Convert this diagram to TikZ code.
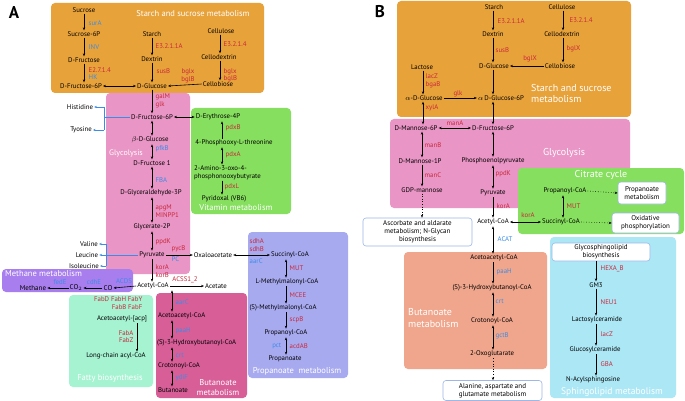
\documentclass[tikz,border=0pt]{standalone}
\usepackage{fontspec}
\setmainfont{PT Sans}
\usetikzlibrary{arrows.meta}
\definecolor{orng}{HTML}{E8A23A}
\definecolor{pinkG}{HTML}{E995C5}
\definecolor{greenV}{HTML}{86DF5E}
\definecolor{peri}{HTML}{A8AAF0}
\definecolor{methp}{HTML}{A87EEE}
\definecolor{mint}{HTML}{A6F3D2}
\definecolor{magB}{HTML}{D85E98}
\definecolor{salmon}{HTML}{F0A68C}
\definecolor{lblue}{HTML}{ACE7F5}
\definecolor{enzred}{HTML}{C8283A}
\definecolor{enzblue}{HTML}{3A8CE8}
\definecolor{bxblue}{HTML}{9DB8E8}
\begin{document}
\begin{tikzpicture}[x=1pt,y=-1pt,
  font=\fontsize{6.8}{7.6}\selectfont,
  met/.style={inner sep=1pt, text=black},
  rt/.style={text=enzred, inner sep=0.5pt, anchor=west, align=left},
  bt/.style={text=enzblue, inner sep=0.5pt, anchor=west, align=left},
  ttlA/.style={text=white, inner sep=0pt, font=\fontsize{8.5}{10}\selectfont},
  ttlB/.style={text=white, inner sep=0pt, font=\fontsize{10}{11.5}\selectfont},
  panel/.style={rounded corners=4pt},
  arr/.style={line width=0.6pt, -{Stealth[length=3pt,width=2.4pt]}},
  darr/.style={line width=0.6pt, {Stealth[length=3pt,width=2.4pt]}-{Stealth[length=3pt,width=2.4pt]}},
  dotarr/.style={line width=0.6pt, dotted, -{Stealth[length=3pt,width=2.4pt]}},
  brk/.style={draw=enzblue, line width=0.6pt},
  barr/.style={draw=enzblue, line width=0.6pt, -{Stealth[length=2.6pt,width=2.2pt]}},
  wbox/.style={draw=bxblue, fill=white, rounded corners=3pt, line width=0.6pt, align=center, inner sep=1pt, font=\fontsize{7}{8.2}\selectfont}
]
\useasboundingbox (0,0) rectangle (685,401);
\fill[white] (0,0) rectangle (685,401);

% ================= PANEL A backgrounds =================
\fill[panel, orng] (51,3) rectangle (264,93);
\fill[panel, pinkG] (106,93) rectangle (190,274);
\fill[panel, greenV] (191,108) rectangle (291,214);
\fill[panel, peri] (248,232) rectangle (348,378);
\fill[panel, methp] (2,269) rectangle (133,292);
\fill[panel, mint] (69,295) rectangle (153,387);
\fill[panel, magB] (156,293) rectangle (247,398);

\node[font=\bfseries\fontsize{17}{17}\selectfont, inner sep=0pt] (pA) at (14,13) {A};

% --- Starch and sucrose (A)
\node[ttlA] (tA1) at (193,14) {Starch and sucrose metabolism};
\node[met] (sucrose) at (84,10) {Sucrose};
\node[met] (suc6p) at (84,34) {Sucrose-6P};
\node[met] (dfru) at (84,60) {D-Fructose};
\node[met] (dfru6pA) at (81,86) {D-Fructose-6P};
\node[met] (starchA) at (152,34) {Starch};
\node[met] (dextrinA) at (152,59) {Dextrin};
\node[met] (dglcA) at (152,86) {D-Glucose};
\node[met] (cellA) at (221,31) {Cellulose};
\node[met] (cdexA) at (219,57) {Cellodextrin};
\node[met] (cbioA) at (218,84) {Cellobiose};
\coordinate (cS) at (84,0);
\coordinate (cG) at (152,0);
\coordinate (cC) at (220,0);
\node[bt] (lsurA) at (88,23) {surA};
\node[bt] (linv) at (88,47) {INV};
\node[rt] (lhk) at (88,73.5) {E2.7.1.4\\\textcolor{enzblue}{HK}};
\node[rt] (le3a) at (155,46) {E3.2.1.1A};
\node[rt] (lsusA) at (156,71) {susB};
\node[rt] (le3b) at (223,44) {E3.2.1.4};
\node[rt] (lbgl1) at (223,75.5) {bglx\\bglB};
\node[rt, anchor=center, align=center] (lbgl2) at (188,76) {bglx\\bglB};
\draw[arr] (sucrose.south -| cS) -- (suc6p.north -| cS);
\draw[arr] (suc6p.south -| cS) -- (dfru.north -| cS);
\draw[arr] (dfru.south -| cS) -- (dfru6pA.north -| cS);
\draw[darr] (dfru6pA.east) -- (dglcA.west);
\draw[arr] (starchA.south -| cG) -- (dextrinA.north -| cG);
\draw[arr] (dextrinA.south -| cG) -- (dglcA.north -| cG);
\draw[arr] (cellA.south -| cC) -- (cdexA.north -| cC);
\draw[arr] (cdexA.south -| cC) -- (cbioA.north -| cC);
\draw[arr] (cbioA.west) -- (dglcA.east);

% --- Glycolysis (A)
\node[ttlA, font=\fontsize{8}{9}\selectfont] (tGly) at (126,153) {Glycolysis};
\node[met] (dfru6pG) at (152,117) {D-Fructose-6P};
\node[met] (bglc) at (150,140) {$\beta$-D-Glucose};
\node[met] (dfru1) at (152,163) {D-Fructose 1};
\node[met] (gap) at (151,193) {D-Glyceraldehyde-3P};
\node[met] (gly2p) at (152,227) {Glycerate-2P};
\node[met] (pyrA) at (152,255) {Pyruvate};
\node[met] (acetylA) at (153,286) {Acetyl-CoA};
\node[rt] (lgal) at (155,101) {galM\\glk};
\node[bt] (lpfk) at (155,149) {pfkB};
\node[bt] (lfba) at (155,180) {FBA};
\node[rt] (lapg) at (155,211) {apgM\\MINPP1};
\node[rt] (lppdA) at (155,242) {ppdK};
\node[rt] (lkorA) at (155,271) {korA\\korB};
\draw[arr] (dglcA.south -| cG) -- (dfru6pG.north -| cG);
\draw[darr] (dfru6pG.south -| cG) -- (bglc.north -| cG);
\draw[darr] (bglc.south -| cG) -- (dfru1.north -| cG);
\draw[darr] (dfru1.south -| cG) -- (gap.north -| cG);
\draw[darr] (gap.south -| cG) -- (gly2p.north -| cG);
\draw[darr] (gly2p.south -| cG) -- (pyrA.north -| cG);
\draw[arr] (pyrA.south -| cG) -- (acetylA.north -| cG);

% amino acids
\node[met] (histidine) at (80,107) {Histidine};
\node[met] (tyosine) at (81,130) {Tyosine};
\node[met] (valine) at (89,244) {Valine};
\node[met] (leucine) at (87,255) {Leucine};
\node[met] (isoleucine) at (84,266) {Isoleucine};
\coordinate (hb) at (104,117);
\coordinate (vb) at (106,255);
\draw[brk] (dfru6pG.west) -- (hb);
\draw[brk] (hb |- histidine) -- (hb |- tyosine);
\draw[barr] (hb |- histidine) -- (histidine.east);
\draw[barr] (hb |- tyosine) -- (tyosine.east);
\draw[brk] (pyrA.west) -- (vb);
\draw[brk] (vb |- valine) -- (vb |- isoleucine);
\draw[barr] (vb |- valine) -- (valine.east);
\draw[barr] (vb |- leucine) -- (leucine.east);
\draw[barr] (vb |- isoleucine) -- (isoleucine.east);

% --- Vitamin metabolism
\node[ttlA] (tVit) at (236,208) {Vitamin metabolism};
\node[met] (ery4p) at (218,117) {D-Erythrose-4P};
\node[met] (phosthr) at (234,143) {4-Phosphooxy-L-threonine};
\node[met, anchor=west, align=left] (amino) at (193,172.5) {2-Amino-3-oxo-4-\\phosphonooxybutyrate};
\node[met] (pyridoxal) at (224,199) {Pyridoxal (VB6)};
\coordinate (cV) at (222,0);
\node[rt] (lpdxB) at (225,128) {pdxB};
\node[rt] (lpdxA) at (225,155) {pdxA};
\node[rt] (lpdxL) at (224,187) {pdxL};
\draw[darr] (dfru6pG.east) -- (ery4p.west);
\draw[arr] (phosthr.north -| cV) -- (ery4p.south -| cV);
\draw[darr] (phosthr.south -| cV) -- (amino.north -| cV);
\draw[arr] (amino.south -| cV) -- (pyridoxal.north -| cV);

% --- Oxaloacetate / Propanoate (A)
\node[met] (oxalo) at (213,255) {Oxaloacetate};
\node[met] (succA) at (290,255) {Succinyl-CoA};
\node[rt] (lpyc) at (171,249) {pycB};
\node[bt] (lpc) at (171,259.5) {PC};
\node[rt] (lsdh) at (249,245) {sdhA\\sdhB};
\node[bt] (laarA) at (249,261) {aarC};
\draw[arr] (pyrA.east) -- (oxalo.west);
\draw[darr] (oxalo.east) -- (succA.west);

\node[ttlA] (tProp) at (297,371) {Propanoate\ \ metabolism};
\node[met] (lmm) at (287,282) {L-Methylmalonyl-CoA};
\node[met] (smm) at (283,308) {(S)-Methylmalonyl-CoA};
\node[met] (propcoa) at (286,333) {Propanoyl-CoA};
\node[met] (propanoate) at (285,359) {Propanoate};
\coordinate (cP) at (286,0);
\node[rt] (lmut) at (289,268) {MUT};
\node[rt] (lmcee) at (289,295) {MCEE};
\node[rt] (lscp) at (289,320) {scpB};
\node[rt] (lacd) at (289,346) {acdAB};
\node[bt, anchor=east] (lpct) at (282,346) {pct};
\draw[darr] (succA.south -| cP) -- (lmm.north -| cP);
\draw[arr] (lmm.south -| cP) -- (smm.north -| cP);
\draw[arr] (smm.south -| cP) -- (propcoa.north -| cP);
\draw[darr] (propcoa.south -| cP) -- (propanoate.north -| cP);

% --- Acetate
\node[met] (acetate) at (216,286) {Acetate};
\node[rt, anchor=center] (lacss) at (185,280) {ACSS1\_2};
\draw[arr] (acetylA.east) -- (acetate.west);

% --- Methane metabolism
\node[ttlA, anchor=west] (tMeth) at (5,274) {Methane metabolism};
\node[met, font=\fontsize{7}{7}\selectfont] (methane) at (33,288) {Methane};
\node[met, font=\fontsize{7}{7}\selectfont] (co2) at (76,288) {CO$_2$};
\node[met, font=\fontsize{7}{7}\selectfont] (co) at (108,288) {CO};
\node[bt, anchor=center] (lfed) at (60,282) {fedE};
\node[bt, anchor=center] (lcdh) at (94,282) {cdhE};
\node[bt, anchor=center] (lacds) at (124,281) {ACDS};
\draw[arr] (acetylA.west) -- (co.east);
\draw[arr] (co.west) -- (co2.east);
\draw[arr] (co2.west) -- (methane.east);

% --- Fatty biosynthesis
\node[ttlA] (tFat) at (110,378) {Fatty\ biosynthesis};
\node[rt, anchor=east, align=right] (lfab1) at (143,303) {FabD FabH FabY\\FabB FabF};
\node[met] (acacp) at (122,319) {Acetoacetyl-[acp]};
\node[rt, anchor=east, align=right] (lfab2) at (134,336.5) {FabA\\FabZ};
\node[met] (longchain) at (116,356) {Long-chain acyl-CoA};
\coordinate (cF) at (137,0);
\draw[arr] (acacp.south -| cF) -- (longchain.north -| cF);

% --- Butanoate (A)
\node[ttlA, align=center] (tButA) at (218,388) {Butanoate\\metabolism};
\node[met, anchor=west] (acacoa) at (157,316) {Acetoacetyl-CoA};
\node[met, anchor=west] (hbcoa) at (156,343) {(S)-3-Hydroxybutanoyl-CoA};
\node[met, anchor=west] (crcoa) at (157,366) {Crotonoyl-CoA};
\node[met, anchor=west] (butan) at (157,390) {Butanoate};
\coordinate (cB) at (172,0);
\node[bt] (laarB) at (175,302) {aarC};
\node[bt] (lpaaA) at (175,331) {paaH};
\node[bt] (lcrtA) at (175,355) {crt};
\node[bt] (lydi) at (175,378) {ydiF};
\draw[darr] (acetylA.south -| cB) -- (acacoa.north -| cB);
\draw[darr] (acacoa.south -| cB) -- (hbcoa.north -| cB);
\draw[darr] (hbcoa.south -| cB) -- (crcoa.north -| cB);
\draw[darr] (crcoa.south -| cB) -- (butan.north -| cB);

% ================= PANEL B backgrounds =================
\fill[panel, orng] (397,1) rectangle (631,117);
\fill[panel, pinkG] (390,119) rectangle (630,208);
\fill[panel, greenV] (518,168) rectangle (684,234);
\fill[panel, salmon] (404,252) rectangle (547,369);
\fill[panel, lblue] (550,237) rectangle (676,398);

\node[font=\bfseries\fontsize{17}{17}\selectfont, inner sep=0pt] (pB) at (380,12) {B};

% --- Starch and sucrose (B)
\node[ttlB, anchor=west, align=left] (tB1) at (531,93.5) {Starch and sucrose\\metabolism};
\node[met] (starchB) at (494,7) {Starch};
\node[met] (dextrinB) at (493,34) {Dextrin};
\node[met] (dglcB) at (494,66) {D-Glucose};
\node[met] (cellB) at (562,7) {Cellulose};
\node[met] (cdexB) at (562,34) {Cellodextrin};
\node[met] (cbioB) at (560,66) {Cellobiose};
\node[met] (lactose) at (422,67) {Lactose};
\node[met] (aglc) at (424,98) {$\alpha$-D-Glucose};
\node[met] (aglc6p) at (501,98) {$\alpha$\,D-Glucose-6P};
\coordinate (cBx) at (493,0);
\coordinate (cCx) at (563,0);
\coordinate (cL) at (423,0);
\node[rt] (le3aB) at (497,21) {E3.2.1.1A};
\node[rt] (lsusB) at (495,50) {susB};
\node[rt] (le3bB) at (569,20) {E3.2.1.4};
\node[rt] (lbglB1) at (566,49) {bglX};
\node[rt, anchor=center] (lbglB2) at (530,59) {bglX};
\node[rt] (llac) at (425,81) {lacZ\\bgaB};
\node[rt, anchor=center] (lglk) at (458,94) {glk};
\node[rt] (lxyl) at (425,108) {xylA};
\node[rt, anchor=center] (lmanA) at (455,123) {manA};
\draw[arr] (starchB.south -| cBx) -- (dextrinB.north -| cBx);
\draw[arr] (dextrinB.south -| cBx) -- (dglcB.north -| cBx);
\draw[arr] (dglcB.south -| cBx) -- (aglc6p.north -| cBx);
\draw[arr] (cellB.south -| cCx) -- (cdexB.north -| cCx);
\draw[arr] (cdexB.south -| cCx) -- (cbioB.north -| cCx);
\draw[arr] (cbioB.west) -- (dglcB.east);
\draw[arr] (lactose.south -| cL) -- (aglc.north -| cL);
\draw[arr] (aglc.east) -- (aglc6p.west);

% --- Glycolysis (B)
\node[ttlB] (tGlyB) at (564,153) {Glycolysis};
\node[met] (dman6p) at (416,128) {D-Mannose-6P};
\node[met] (dfru6pB) at (493,128) {D-Fructose-6P};
\node[met] (dman1p) at (420,161) {D-Mannose-1P};
\node[met] (gdpman) at (422,190) {GDP-mannose};
\node[met] (pep) at (493,161) {Phosphoenolpyruvate};
\node[met] (pyrB) at (493,193) {Pyruvate};
\coordinate (cM) at (422,0);
\node[rt] (lmanB) at (424,145) {manB};
\node[rt] (lmanC) at (424,175) {manC};
\node[rt] (lppdB) at (495,174) {ppdK};
\node[rt] (lkorB) at (496,206) {korA};
\draw[darr] (aglc.south -| cL) -- (dman6p.north -| cL);
\draw[darr] (dman6p.east) -- (dfru6pB.west);
\draw[darr] (aglc6p.south -| cBx) -- (dfru6pB.north -| cBx);
\draw[darr] (dman6p.south -| cM) -- (dman1p.north -| cM);
\draw[arr] (dman1p.south -| cM) -- (gdpman.north -| cM);
\draw[darr] (dfru6pB.south -| cBx) -- (pep.north -| cBx);
\draw[darr] (pep.south -| cBx) -- (pyrB.north -| cBx);

\node[wbox, minimum width=109pt, minimum height=28pt] (asc) at (417.5,232) {Ascorbate and aldarate\\metabolism; N-Glycan\\biosynthesis};
\draw[dotarr] (gdpman.south -| cM) -- (asc.north -| cM);

\node[met] (acetylB) at (493,222) {Acetyl-CoA};
\node[met] (acacoaB) at (494,258) {Acetoacetyl-CoA};
\node[bt] (lacat) at (497,239) {ACAT};
\draw[arr] (pyrB.south -| cBx) -- (acetylB.north -| cBx);
\draw[darr] (acetylB.south -| cBx) -- (acacoaB.north -| cBx);

% --- Citrate cycle (B)
\node[ttlB] (tCit) at (601,175) {Citrate cycle};
\node[met] (propB) at (565,191) {Propanoyl-CoA};
\node[met] (succB) at (561,222) {Succinyl-CoA};
\coordinate (cPr) at (563,0);
\node[rt] (lmutB) at (566,206) {MUT};
\node[rt, anchor=center] (lkorC) at (528,215) {korA};
\draw[darr] (acetylB.east) -- (succB.west);
\draw[darr] (propB.south -| cPr) -- (succB.north -| cPr);
\node[wbox, minimum width=48pt, minimum height=22pt] (propbox) at (642,193) {Propanoate\\metabolism};
\node[wbox, minimum width=67pt, minimum height=20pt] (oxbox) at (645.5,223) {Oxidative\\phosphorylation};
\draw[dotarr] (propB.east) -- (propbox.west);
\draw[dotarr] (succB.east) -- (oxbox.west);

% --- Butanoate (B)
\node[ttlB, anchor=west, align=left] (tButB) at (408,318) {Butanoate\\metabolism};
\node[met] (hbB) at (492,288) {(S)-3-Hydroxybutanoyl-CoA};
\node[met] (crB) at (492,321) {Crotonoyl-CoA};
\node[met] (oxoglu) at (492,354) {2-Oxoglutarate};
\node[bt] (lpaaB) at (496,272) {paaH};
\node[bt] (lcrtB) at (495,301) {crt};
\node[bt] (lgct) at (495,336) {gctB};
\draw[arr] (acacoaB.south -| cBx) -- (hbB.north -| cBx);
\draw[darr] (hbB.south -| cBx) -- (crB.north -| cBx);
\draw[darr] (crB.south -| cBx) -- (oxoglu.north -| cBx);
\node[wbox, minimum width=99pt, minimum height=20pt] (alan) at (492.5,390.5) {Alanine, aspartate and\\glutamate metabolism};
\draw[dotarr] (oxoglu.south -| cBx) -- (alan.north -| cBx);

% --- Sphingolipid (B)
\node[ttlB, font=\fontsize{9.5}{11}\selectfont] (tSph) at (612,392) {Sphingolipid metabolism};
\node[wbox, minimum width=98pt, minimum height=18pt] (glyco) at (601,252) {Glycosphingolipid\\biosynthesis};
\node[met] (gm3) at (596,285) {GM3};
\node[met] (lcer) at (597,320) {Lactosylceramide};
\node[met] (gcer) at (595,350) {Glucosylceramide};
\node[met] (nacyl) at (593,380) {N-Acylsphingosine};
\coordinate (cSp) at (596,0);
\node[rt] (lhexa) at (600,269) {HEXA\_B};
\node[rt] (lneu) at (600,302) {NEU1};
\node[rt] (llacz) at (600,334) {lacZ};
\node[rt] (lgba) at (600,364) {GBA};
\draw[arr] (glyco.south -| cSp) -- (gm3.north -| cSp);
\draw[arr] (gm3.south -| cSp) -- (lcer.north -| cSp);
\draw[arr] (lcer.south -| cSp) -- (gcer.north -| cSp);
\draw[arr] (gcer.south -| cSp) -- (nacyl.north -| cSp);
\end{tikzpicture}
\end{document}
